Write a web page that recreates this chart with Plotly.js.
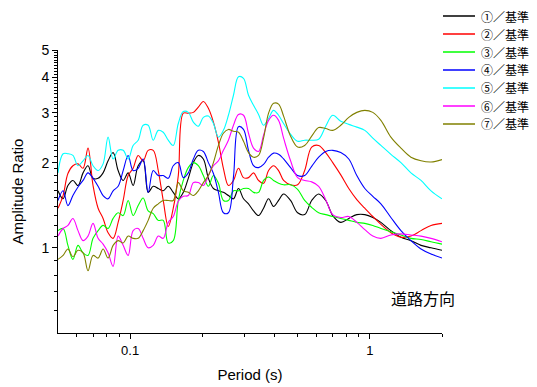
<!DOCTYPE html>
<html>
<head>
<meta charset="utf-8">
<script src="https://cdn.plot.ly/plotly-3.0.1.min.js"></script>
<style>html,body{margin:0;padding:0;background:#fff;}</style>
</head>
<body>
<div id="chart" style="width:537px;height:387px;"></div>
<script>
// Period grid (s)
const period = [0.050, 0.0525, 0.0550, 0.0577, 0.0606, 0.0636, 0.0667, 0.0700, 0.0735, 0.0771,
  0.0809, 0.0849, 0.0891, 0.0935, 0.0981, 0.1029, 0.1080, 0.1133, 0.1189, 0.1248,
  0.1310, 0.1374, 0.1442, 0.1513, 0.1588, 0.1666, 0.1748, 0.1835, 0.1925, 0.2020,
  0.2120, 0.2225, 0.2335, 0.2449, 0.2570, 0.2698, 0.2831, 0.2971, 0.3117, 0.3271,
  0.3433, 0.3602, 0.3780, 0.3966, 0.4161, 0.4367, 0.4670, 0.4996, 0.5346, 0.5719,
  0.6117, 0.6545, 0.7002, 0.7563, 0.8169, 0.8822, 0.9530, 1.029, 1.112, 1.224,
  1.348, 1.484, 1.635, 1.800, 2.000];

const seriesNames = ['①／基準', '②／基準', '③／基準', '④／基準', '⑤／基準', '⑥／基準', '⑦／基準'];

const ratio1 = [1.59, 1.49, 1.66, 1.73, 1.66, 1.84, 1.95, 1.76, 1.76, 1.84,
  2.03, 2.17, 1.875, 1.73, 1.84, 1.66, 1.95, 2.03, 1.57, 1.65,
  1.62, 1.59, 1.65, 1.57, 1.49, 1.57, 1.76, 2.00, 2.12, 2.06,
  1.76, 1.62, 1.59, 1.57, 1.53, 1.49, 1.62, 1.49, 1.43, 1.35,
  1.30, 1.38, 1.49, 1.40, 1.47, 1.55, 1.47, 1.33, 1.31, 1.47,
  1.55, 1.47, 1.30, 1.23, 1.27, 1.31, 1.31, 1.28, 1.23, 1.15,
  1.09, 1.06, 1.02, 1.00, 0.98];

const ratio2 = [1.38, 1.53, 1.83, 1.95, 1.98, 1.91, 2.25, 1.66, 1.38, 1.27,
  1.13, 1.08, 1.23, 1.47, 1.80, 1.91, 2.12, 2.03, 2.21, 2.21,
  1.875, 1.47, 1.19, 1.38, 1.80, 2.99, 2.99, 3.01, 3.14, 3.29,
  3.11, 2.78, 2.36, 1.91, 1.66, 1.73, 1.91, 1.77, 1.77, 1.84,
  1.73, 1.69, 1.875, 1.95, 1.875, 1.73, 1.67, 1.67, 1.875, 2.27,
  2.30, 2.17, 2.00, 1.81, 1.62, 1.48, 1.38, 1.29, 1.21, 1.13,
  1.09, 1.10, 1.15, 1.20, 1.22];

const ratio3 = [1.15, 1.17, 1.02, 0.91, 1.02, 0.96, 0.94, 1.08, 1.15, 1.20,
  1.17, 1.27, 1.33, 1.30, 1.47, 1.30, 1.41, 1.50, 1.35, 1.32,
  1.25, 1.25, 1.04, 1.06, 1.47, 1.73, 1.92, 2.00, 1.95, 1.80,
  1.65, 1.80, 1.69, 1.47, 1.47, 1.59, 1.59, 1.62, 1.62, 1.57,
  1.57, 1.73, 1.78, 1.73, 1.69, 1.67, 1.67, 1.61, 1.47, 1.39,
  1.33, 1.31, 1.29, 1.27, 1.25, 1.23, 1.22, 1.20, 1.17, 1.14,
  1.11, 1.08, 1.07, 1.05, 1.03];

const ratio4 = [1.47, 1.59, 1.41, 1.53, 1.64, 1.73, 1.84, 1.76, 1.65, 1.53,
  1.49, 1.59, 1.65, 1.875, 2.12, 1.875, 1.91, 2.06, 1.57, 1.875,
  1.80, 1.80, 1.76, 1.95, 2.00, 1.77, 1.84, 2.06, 2.21, 2.19,
  2.00, 1.83, 1.57, 1.33, 1.33, 1.78, 2.68, 2.62, 2.21, 1.95,
  1.92, 1.97, 2.09, 2.16, 2.14, 2.06, 1.92, 1.80, 1.80, 1.94,
  2.09, 2.19, 2.21, 2.17, 2.06, 1.80, 1.62, 1.52, 1.43, 1.28,
  1.15, 1.06, 0.99, 0.95, 0.92];

const ratio5 = [1.84, 2.15, 2.15, 2.12, 1.95, 2.03, 2.12, 1.95, 1.875, 1.98,
  2.46, 2.06, 2.21, 2.21, 2.06, 2.30, 2.40, 2.71, 2.71, 2.40,
  2.60, 2.56, 2.40, 2.30, 2.75, 3.03, 3.01, 2.78, 2.69, 2.89,
  2.92, 2.75, 2.46, 2.60, 2.94, 3.46, 4.02, 3.97, 3.46, 3.19,
  2.96, 2.71, 2.87, 3.06, 2.94, 2.75, 2.52, 2.38, 2.40, 2.40,
  2.42, 2.69, 2.94, 2.80, 2.73, 2.67, 2.60, 2.44, 2.30, 2.14,
  2.00, 1.84, 1.73, 1.59, 1.49];

const ratio6 = [1.10, 1.17, 1.20, 1.27, 1.15, 1.06, 1.10, 1.22, 1.08, 1.03,
  0.96, 0.86, 1.10, 1.02, 0.94, 1.15, 1.17, 1.08, 1.00, 1.02,
  1.10, 1.08, 1.23, 1.29, 1.46, 1.52, 1.53, 1.70, 1.70, 1.66,
  1.80, 1.95, 2.03, 2.21, 2.40, 2.71, 2.96, 2.94, 2.54, 2.25,
  2.19, 2.50, 2.82, 2.94, 2.82, 2.44, 2.03, 1.77, 1.73, 1.71,
  1.65, 1.48, 1.31, 1.28, 1.29, 1.23, 1.16, 1.10, 1.08, 1.11,
  1.12, 1.11, 1.10, 1.08, 1.05];

const ratio7 = [0.91, 0.94, 0.99, 0.93, 0.98, 0.96, 0.83, 0.94, 0.92, 0.99,
  0.92, 1.02, 1.06, 1.04, 1.10, 1.08, 1.08, 1.15, 1.25, 1.38,
  1.43, 1.47, 1.47, 1.47, 1.70, 1.59, 1.57, 1.53, 1.59, 1.70,
  1.80, 2.00, 2.30, 2.54, 2.62, 2.58, 2.56, 2.38, 2.17, 2.09,
  2.12, 2.44, 2.99, 3.24, 3.22, 2.92, 2.48, 2.27, 2.30, 2.48,
  2.66, 2.64, 2.60, 2.71, 2.89, 3.01, 3.06, 3.01, 2.82, 2.46,
  2.25, 2.09, 2.03, 2.01, 2.05];

const xTickVals = [0.1, 1];
const xTickText = ['0.1', '1'];
const xMinorVals = [0.06, 0.07, 0.08, 0.09, 0.2, 0.3, 0.4, 0.5, 0.6, 0.7, 0.8, 0.9, 2];
const yTickVals = [1, 2, 3, 4, 5];
const yTickText = ['1', '2', '3', '4', '5'];

const allRatios = [ratio1, ratio2, ratio3, ratio4, ratio5, ratio6, ratio7];
const colors = ['#000000', '#ff0000', '#00ff00', '#0000ff', '#00ffff', '#ff00ff', '#808000'];

const yMinorVals = [];
for (let k = 6; k < 50; k++) {
  if (k % 10 !== 0) yMinorVals.push(k / 10);
}

const traces = allRatios.map((r, i) => ({
  x: period,
  y: r,
  type: 'scatter',
  mode: 'lines',
  name: seriesNames[i],
  showlegend: false,
  line: {color: colors[i], width: 1.1, shape: 'spline', smoothing: 1}
}));

// Legend drawn in the figure's top-right corner (paper coordinates)
const plotTop = 50, plotBottom = 333, plotLeft = 58, plotRight = 442;
const pxToPaperX = px => (px - plotLeft) / (plotRight - plotLeft);
const pxToPaperY = py => (plotBottom - py) / (plotBottom - plotTop);
const legendShapes = [];
const legendTexts = [];
seriesNames.forEach((name, i) => {
  const cy = 16 + 18 * i;
  legendShapes.push({
    type: 'line', xref: 'paper', yref: 'paper',
    x0: pxToPaperX(443), x1: pxToPaperX(475), y0: pxToPaperY(cy), y1: pxToPaperY(cy),
    line: {color: colors[i], width: 1.5}
  });
  legendTexts.push({
    text: name, xref: 'paper', yref: 'paper',
    x: pxToPaperX(480), y: pxToPaperY(cy), xanchor: 'left', yanchor: 'middle',
    showarrow: false, borderpad: 0,
    font: {family: 'Noto Sans CJK JP', size: 12, color: '#000'}
  });
});

const layout = {
  width: 537,
  height: 387,
  margin: {l: 58, r: 95, t: 50, b: 54, autoexpand: false},
  paper_bgcolor: '#ffffff',
  plot_bgcolor: '#ffffff',
  font: {family: 'Liberation Sans, Arial, sans-serif', size: 13, color: '#000'},
  showlegend: false,
  xaxis: {
    type: 'log',
    range: [Math.log10(0.05), Math.log10(2)],
    showline: true, linecolor: '#000', linewidth: 1,
    showgrid: false, zeroline: false, automargin: false,
    tickmode: 'array', tickvals: xTickVals, ticktext: xTickText,
    ticks: 'outside', ticklen: 5, tickcolor: '#000', tickwidth: 1,
    tickfont: {size: 13},
    minor: {tickmode: 'array', tickvals: xMinorVals, ticks: 'outside', ticklen: 3, tickcolor: '#000', tickwidth: 1, showgrid: false},
    title: {text: 'Period (s)', font: {size: 15}, standoff: 12}
  },
  yaxis: {
    type: 'log',
    range: [Math.log10(0.5), Math.log10(5)],
    showline: true, linecolor: '#000', linewidth: 1,
    showgrid: false, zeroline: false, automargin: false,
    tickmode: 'array', tickvals: yTickVals, ticktext: yTickText,
    ticks: 'outside', ticklen: 5, tickcolor: '#000', tickwidth: 1,
    tickfont: {size: 14},
    minor: {tickmode: 'array', tickvals: yMinorVals, ticks: 'outside', ticklen: 3, tickcolor: '#000', tickwidth: 1, showgrid: false},
    title: {text: 'Amplitude Ratio', font: {size: 15}, standoff: 14}
  },
  shapes: legendShapes,
  annotations: legendTexts.concat([{
    text: '道路方向', xref: 'paper', yref: 'paper', x: pxToPaperX(423), y: pxToPaperY(298),
    xanchor: 'center', yanchor: 'middle', showarrow: false,
    font: {family: 'Noto Sans CJK JP', size: 16, color: '#000'}
  }])
};

Plotly.newPlot('chart', traces, layout, {displayModeBar: false, staticPlot: true});
</script>
</body>
</html>
